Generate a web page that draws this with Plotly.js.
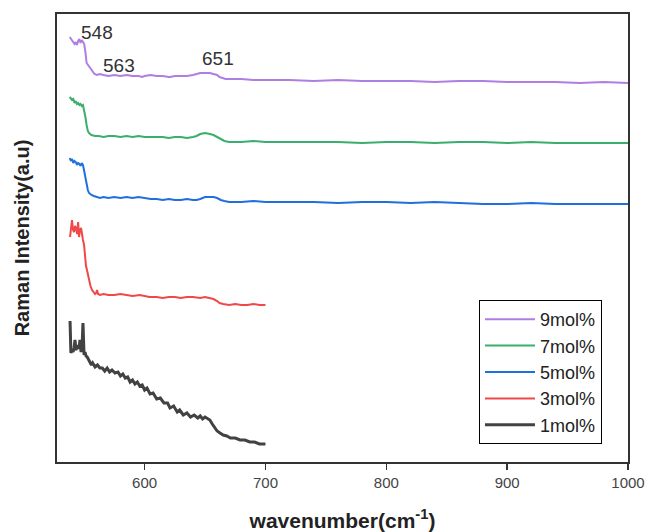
<!DOCTYPE html>
<html><head><meta charset="utf-8">
<script src="https://cdn.plot.ly/plotly-3.0.1.min.js"></script>
<style>html,body{margin:0;padding:0;background:#fff}</style>
</head><body><div id="chart" style="width:648px;height:532px"></div>
<script>
// wavenumber (cm-1) and relative intensity (a.u., offset stacked)
const x9 = [538,539,540,541,542,543,544,545,546,547,548,549,550,551,
            551.5,552,553.2,554.8,556,557.3,558.5,560.6,
            563,566,570,575,580,585,590,595,598,600,
            605,610,615,620,621,625,630,635,640,
            643,646,650,654,657,660,662,665,667,670,
            680,690,700,
            720,740,760,780,800,820,840,860,880,900,920,940,960,980,1000];
const y9 = [425,423,421,419,418,420,417,421,423,419,422,420,418,410,
            402,399,397,394,392,390,388,387,
            388,387,386,387,386,387,386,386,385,386,
            387,386,386,385,385,386,386,386,387,
            388,389,389,389,388,387,385,384,383,383,
            383,382,382,
            382,381,382,381,381,381,380,381,381,380,380,380,379,380,379];

const x7 = [538,539,540,541,542,543,544,545,546,547,548,549,
            550,551,552,553,554,
            556,559,562,566,570,
            575,580,585,590,595,600,
            605,610,615,620,625,630,635,640,
            643,646,650,654,657,660,663,666,670,
            680,690,700,
            720,740,760,780,800,820,840,860,880,900,920,940,960,980,1000];
const y7 = [365,363,362,363,359,361,358,359,357,358,356,357,
            352,345,337,331,329,
            327,326,326,325,326,
            326,325,326,325,326,325,
            325,325,325,324,325,325,324,325,
            326,328,329,328,327,325,323,321,320,
            320,321,320,
            320,320,320,319,320,320,319,320,320,319,320,319,319,319,319];

const x5 = [538,539,540,541,542,543,544,545,546,547,548,549,550,551,552,553,554,
            556,558,560,563,566,570,
            575,580,585,590,595,600,605,610,615,620,625,630,635,640,
            643,646,650,654,657,660,663,666,670,
            680,690,700,
            720,740,760,780,800,820,840,860,880,900,920,940,960,980,1000];
const y5 = [304,301,303,299,301,300,297,299,298,296,299,297,291,284,277,272,269,
            267,266,265,264,265,264,
            265,264,265,264,265,264,263,263,262,263,262,262,263,262,
            262,263,265,265,265,264,262,261,260,
            260,261,260,
            260,260,259,260,260,259,260,259,258,258,259,258,258,258,258];

const x3 = [538.3,539.9,540.8,541.6,542.4,543.3,544.1,545.0,545.7,546.5,
            547.4,548.2,549.0,549.9,550.7,551.5,552.3,553.2,554.0,555.2,
            556.5,557.8,559.0,560.0,560.6,561.5,563.1,
            566,570,575,580,585,590,596,600,604,610,
            615,620,625,630,635,640,646,650,654,657,
            660,662,665,670,675,680,685,690,695,700];
const y3 = [225,242,232,230,236,234,228,240,225,232,
            234,226,222,217,200,196,192,186,180,176,
            172,170,168,169,172,168,167,
            168,167,167,168,167,166,167,166,165,165,
            164,165,165,164,165,165,164,165,164,163,
            161,159,158,157,158,157,157,158,157,157];

const x1 = [538.3,539.0,539.9,540.8,541.6,542.4,543.2,544.1,544.9,545.7,
            546.5,547.4,548.2,549.0,549.5,549.9,550.7,551.5,552.5,553.5,
            554.8,556,557,559,561,563,565,567,569,571,
            573,575.5,578,580,582,584,586,588,590,592,
            594,596,598,600,602,604.5,607,610,613,616,
            619,621,624,627,629,632,635,638,641,644,
            646,648,650,652.5,654,656,658,660,662.4,665,
            668,671,675,679,683,687,691,695,700];
const y1 = [141,109,112,110,114,122,112,115,117,113,
            122,110,114,139,112,107,110,106,105,103,
            100,97,99,95,97,94,94,91,94,90,
            92,89,90,86,88,84,85,80,82,78,
            80,76,77,72,74,68,69,63,64,59,
            59,54,56,50,52,47,49,45,47,44,
            46,43,45,43,42,38,35,31,29,27,
            26,24,24,22,22,20,20,18,18];

const seriesNames = ['9mol%','7mol%','5mol%','3mol%','1mol%'];
const seriesX = [x9, x7, x5, x3, x1];
const seriesY = [y9, y7, y5, y3, y1];
const seriesColors = ['#b07ee0','#3aae6c','#1f6fdc','#f04848','#424242'];
const seriesWidths = [2, 2, 2, 2, 3];

const peakLabels = ['548','563','651'];
const peakX = [560.5, 578.5, 661];
const peakY = [430, 397, 404];

const traces = seriesNames.map((n, i) => ({
  type: 'scatter', mode: 'lines', name: n,
  x: seriesX[i], y: seriesY[i],
  line: {color: seriesColors[i], width: seriesWidths[i]}
}));

const font = 'Liberation Sans, Arial, sans-serif';
const layout = {
  width: 648, height: 532,
  margin: {l: 57, r: 20, t: 14, b: 70},
  paper_bgcolor: '#fff', plot_bgcolor: '#fff',
  font: {family: font, color: '#333'},
  showlegend: true,
  xaxis: {
    range: [527.5, 1000], tickvals: [600,700,800,900,1000],
    ticks: 'outside', ticklen: 6, tickwidth: 1.5, tickcolor: '#333',
    showline: true, linecolor: '#333', linewidth: 2, mirror: true,
    showgrid: false, zeroline: false,
    tickfont: {size: 15, color: '#444', family: font},
    title: {text: 'wavenumber(cm<sup>-1</sup>)', standoff: 27,
            font: {size: 21, color: '#222', family: font, weight: 'bold'}}
  },
  yaxis: {
    range: [0, 448], showticklabels: false, ticks: '',
    showline: true, linecolor: '#333', linewidth: 2, mirror: true,
    showgrid: false, zeroline: false,
    title: {text: 'Raman Intensity(a.u)', standoff: 20,
            font: {size: 20, color: '#222', family: font, weight: 'bold'}}
  },
  legend: {
    x: 0.739, y: 0.3616, xanchor: 'left', yanchor: 'top',
    bordercolor: '#000', borderwidth: 1, bgcolor: '#fff',
    font: {size: 18, color: '#222', family: font},
    traceorder: 'normal', itemwidth: 50
  },
  annotations: peakLabels.map((t, i) => ({
    text: t, x: peakX[i], y: peakY[i], xref: 'x', yref: 'y',
    showarrow: false, font: {size: 19, color: '#333', family: font}
  }))
};

Plotly.newPlot('chart', traces, layout, {displayModeBar: false, staticPlot: true});
</script></body></html>
